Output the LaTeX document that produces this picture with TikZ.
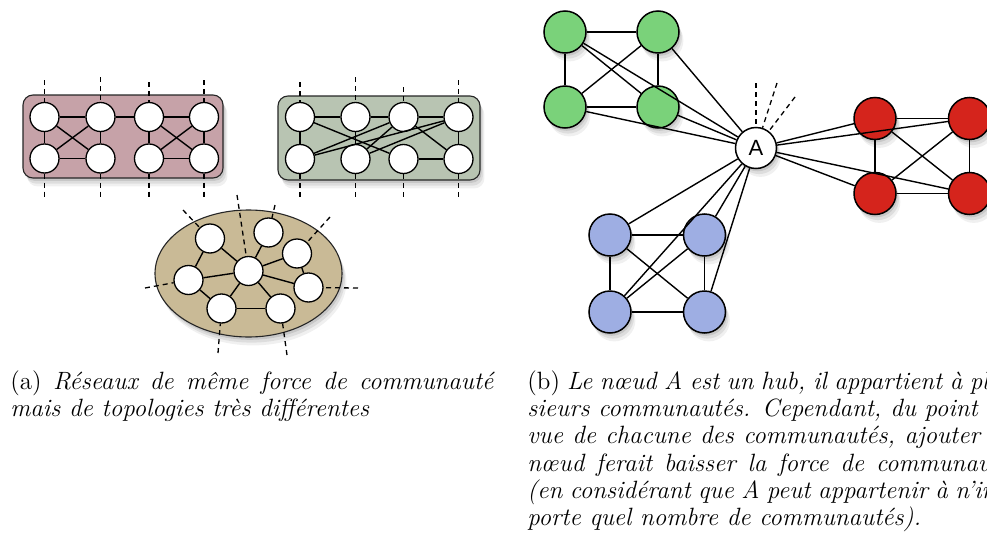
\documentclass[tikz,border=0pt]{standalone}
\usepackage{fontspec}
\newfontfamily\helv{Liberation Sans}
\usetikzlibrary{shadows}
\definecolor{pinkc}{RGB}{198,162,168}
\definecolor{sagec}{RGB}{184,196,178}
\definecolor{tanc}{RGB}{201,186,150}
\definecolor{greenc}{RGB}{122,210,122}
\definecolor{redc}{RGB}{213,36,28}
\definecolor{bluec}{RGB}{158,174,227}
\tikzset{
 soft/.style={
  general shadow={fill=black,opacity=0.10,shadow xshift=0.8pt,shadow yshift=-1.4pt},
  general shadow={fill=black,opacity=0.08,shadow xshift=1.5pt,shadow yshift=-2.8pt},
  general shadow={fill=black,opacity=0.06,shadow xshift=2.2pt,shadow yshift=-4.2pt}},
 wn/.style={circle,draw=black,line width=0.65pt,fill=white,minimum size=14.5pt,inner sep=0pt},
 cn/.style={circle,draw=black,line width=0.75pt,minimum size=21pt,inner sep=0pt,soft},
 ed/.style={line width=0.7pt},
 dl/.style={line width=0.65pt,dash pattern=on 2.5pt off 2pt},
 boxc/.style={draw=black!85,line width=0.55pt,rounded corners=5pt,soft},
 captext/.style={anchor=base west,inner sep=0pt,text width=241.5pt,align=justify,font=\fontsize{12.5}{13.6}\selectfont}
}
\begin{document}
\begin{tikzpicture}[x=0.5pt,y=-0.5pt]
\useasboundingbox (0,0) rectangle (987,541);

% ---------- pink box ----------
\draw[boxc,fill=pinkc] (23,95) rectangle (223,178);
\foreach \n/\x in {1/44.5,2/100.5,3/149,4/204}{
  \node[wn] (pa\n) at (\x,117) {};
  \node[wn] (pb\n) at (\x,158.5) {};
}
\foreach \a/\b in {pa1/pa2,pa1/pb1,pb1/pb2,pa2/pb2,pa1/pb2,pa2/pb1,pa2/pa3,pa3/pa4,pa3/pb3,pb3/pb4,pa4/pb4,pa3/pb4,pa4/pb3}
  \draw[ed] (\a) -- (\b);
\foreach \n/\x/\t in {1/44.5/80,2/100.5/77,3/149/82,4/204/80}{
  \coordinate (pt\n) at (\x,\t);
  \coordinate (pd\n) at (\x,198);
  \draw[dl] (pt\n) -- (pa\n);
  \draw[dl] (pb\n) -- (pd\n);
}

% ---------- sage box ----------
\draw[boxc,fill=sagec] (278,96) rectangle (480,180);
\foreach \n/\x in {1/300,2/355.5,3/403.5,4/458.5}{
  \node[wn] (ga\n) at (\x,117) {};
  \node[wn] (gb\n) at (\x,159) {};
}
\foreach \a/\b in {ga1/ga2,ga2/ga3,ga3/ga4,ga1/gb1,ga2/gb2,ga4/gb4,gb3/gb4,ga1/gb3,gb1/ga3,gb1/ga4,gb2/ga3,gb2/ga4,ga3/gb4}
  \draw[ed] (\a) -- (\b);
\foreach \n/\x/\t in {1/300/82,2/355.5/77,3/403.5/87,4/458.5/80}{
  \coordinate (gt\n) at (\x,\t);
  \coordinate (gd\n) at (\x,198);
  \draw[dl] (gt\n) -- (ga\n);
  \draw[dl] (gb\n) -- (gd\n);
}

% ---------- ellipse ----------
\draw[fill=tanc,draw=black!85,line width=0.55pt,soft] (248.5,273.5) ellipse [x radius=46.75pt,y radius=31.75pt];
\node[wn] (e1) at (210,238.5) {};
\node[wn] (e2) at (268.5,232.5) {};
\node[wn] (e3) at (297,253.5) {};
\node[wn] (e4) at (248.5,271) {};
\node[wn] (e5) at (188.5,280) {};
\node[wn] (e6) at (308.5,287.5) {};
\node[wn] (e7) at (221.5,308.5) {};
\node[wn] (e8) at (280.5,308.5) {};
\foreach \a/\b in {e1/e5,e1/e4,e5/e4,e5/e7,e7/e4,e7/e8,e8/e4,e4/e6,e4/e3,e4/e2,e3/e6}
  \draw[ed] (\a) -- (\b);
\foreach \n/\x/\y in {1/183/210,4/237/195,2/275/205,3/330/217,6/358/288,8/287/355,7/218/353,5/145/288}{
  \coordinate (eo\n) at (\x,\y);
  \draw[dl] (eo\n) -- (e\n);
}

% ---------- panel (b) ----------
\node[cn,fill=greenc] (gTL) at (565,32) {};
\node[cn,fill=greenc] (gTR) at (658,32) {};
\node[cn,fill=greenc] (gBL) at (565,107) {};
\node[cn,fill=greenc] (gBR) at (658,107) {};
\node[cn,fill=redc] (rTL) at (875,118.5) {};
\node[cn,fill=redc] (rTR) at (969.5,118.5) {};
\node[cn,fill=redc] (rBL) at (875,193.5) {};
\node[cn,fill=redc] (rBR) at (969.5,193.5) {};
\node[cn,fill=bluec] (bTL) at (610,235) {};
\node[cn,fill=bluec] (bTR) at (704.5,235) {};
\node[cn,fill=bluec] (bBL) at (610,312) {};
\node[cn,fill=bluec] (bBR) at (704.5,312) {};
\node[circle,draw=black,line width=0.75pt,fill=white,minimum size=20.5pt,inner sep=0pt,soft,font=\helv\fontsize{11}{13}\selectfont] (A) at (756,148) {A};

\foreach \c in {g,r,b}{
  \foreach \a/\b in {TL/TR,TL/BL,TR/BR,BL/BR,TL/BR,BL/TR}
    \draw[ed] (\c\a) -- (\c\b);
  \foreach \a in {TL,TR,BL,BR}
    \draw[ed] (A) -- (\c\a);
}
\foreach \n/\x/\y in {1/756/83,2/777/83,3/795/97}{
  \coordinate (ad\n) at (\x,\y);
  \draw[dl] (ad\n) -- (A);
}

% ---------- captions ----------
\node[captext] (capa) at (10,389.5) {(a) \textit{Réseaux de même force de communauté\linebreak mais de topologies très différentes}};
\node[captext] (capb) at (527,389.5) {(b) \textit{Le nœud A est un hub, il appartient à plu-\linebreak sieurs communautés. Cependant, du point de\linebreak vue de chacune des communautés, ajouter ce\linebreak nœud ferait baisser la force de communauté\linebreak (en considérant que A peut appartenir à n'im-\linebreak porte quel nombre de communautés).}};
\end{tikzpicture}
\end{document}
